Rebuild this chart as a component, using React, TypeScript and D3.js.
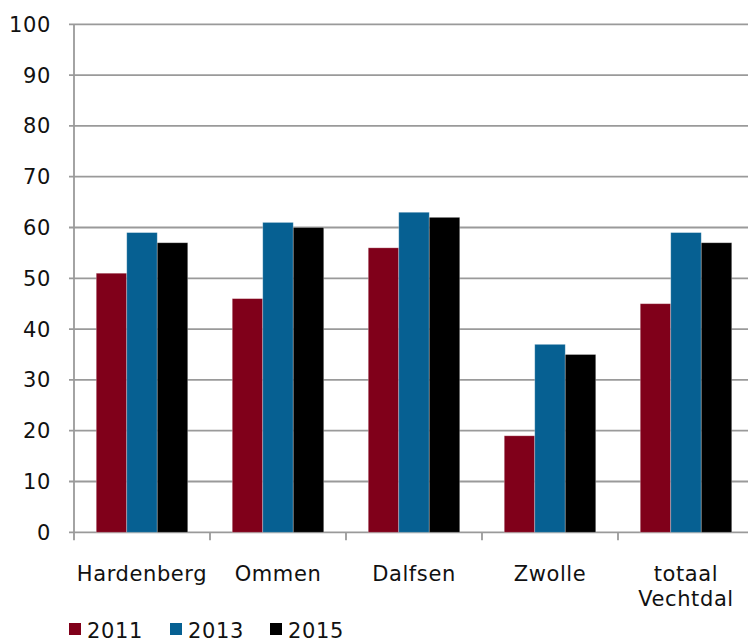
import React from "react";
import * as d3 from "d3";

const categories = ["Hardenberg", "Ommen", "Dalfsen", "Zwolle", "totaal\nVechtdal"];
const seriesNames = ["2011", "2013", "2015"];
const values2011 = [51, 46, 56, 19, 45];
const values2013 = [59, 61, 63, 37, 59];
const values2015 = [57, 60, 62, 35, 57];
const yTicks = [0, 10, 20, 30, 40, 50, 60, 70, 80, 90, 100];
const colors = ["#80001a", "#066092", "#000000"];

export default function App() {
  const W = 748, H = 639;
  const left = 74, right = 754, top = 24.3, bottom = 532.3;
  const series = [values2011, values2013, values2015];
  const x = d3.scaleBand<string>().domain(categories).range([left, right]).paddingInner(0).paddingOuter(0);
  const inner = d3.scaleBand<string>().domain(seriesNames).range([0, 91.5]);
  const y = d3.scaleLinear().domain([0, 100]).range([bottom, top]);
  const groupOffset = (x.bandwidth() - 91.5) / 2;
  const font = "DejaVu Sans, Verdana, sans-serif";
  const grid = "#9a9a9a";
  const fs = 21;
  const ls = 0.6;
  return (
    <svg width={W} height={H} style={{ position: "absolute", left: 0, top: 0 }} fontFamily={font}>
      {yTicks.map((t) => (
        <g key={t}>
          <line x1={left - 5} x2={W} y1={y(t)} y2={y(t)} stroke={grid} strokeWidth={1.8} />
          <text x={51} y={y(t) + 7.5} fontSize={fs} letterSpacing={ls} textAnchor="end" fill="#111">{t}</text>
        </g>
      ))}
      <line x1={left} x2={left} y1={top} y2={bottom + 8} stroke={grid} strokeWidth={1.8} />
      {categories.map((c) => (
        <line key={"t" + c} x1={x(c)! + x.bandwidth()} x2={x(c)! + x.bandwidth()} y1={bottom} y2={bottom + 8} stroke={grid} strokeWidth={1.8} />
      ))}
      {categories.map((c, i) =>
        series.map((s, j) => (
          <rect
            key={c + j}
            x={x(c)! + groupOffset + inner(seriesNames[j])!}
            y={y(s[i])}
            width={inner.bandwidth()}
            height={y(0) - y(s[i])}
            fill={colors[j]}
            stroke="rgba(255,255,255,0.35)"
            strokeWidth={0.8}
          />
        ))
      )}
      {categories.map((c) => {
        const lines = c.split("\n");
        const cx = x(c)! + x.bandwidth() / 2;
        return (
          <text key={"l" + c} x={cx} y={581} fontSize={fs} letterSpacing={ls} textAnchor="middle" fill="#111">
            {lines.map((ln, k) => (
              <tspan key={k} x={cx} dy={k === 0 ? 0 : 25}>{ln}</tspan>
            ))}
          </text>
        );
      })}
      {seriesNames.map((n, j) => {
        const lx = [69, 170, 270][j];
        return (
          <g key={n}>
            <rect x={lx} y={623} width={12} height={12} fill={colors[j]} />
            <text x={lx + 18} y={638} fontSize={fs} letterSpacing={ls} fill="#111">{n}</text>
          </g>
        );
      })}
    </svg>
  );
}
